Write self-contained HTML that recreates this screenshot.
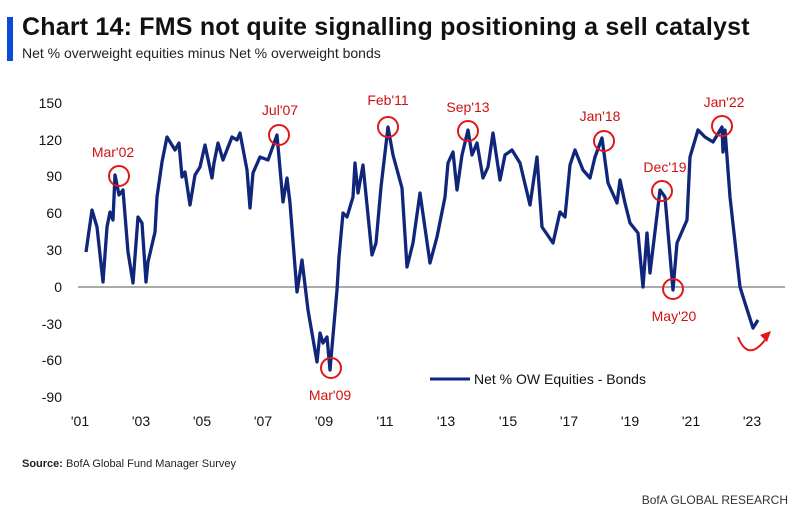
<!DOCTYPE html><html><head><style>
body{margin:0;background:#fff;width:800px;height:519px;overflow:hidden;font-family:"Liberation Sans",sans-serif;position:relative}
.t{position:absolute;white-space:nowrap}
</style></head><body>
<div style="position:absolute;left:7px;top:17px;width:6px;height:44px;background:#0a4bd8"></div>
<div class="t" style="left:22px;top:13px;font-size:25px;letter-spacing:0.2px;font-weight:bold;color:#111">Chart 14: FMS not quite signalling positioning a sell catalyst</div>
<div class="t" style="left:22px;top:45px;font-size:14px;color:#222">Net % overweight equities minus Net % overweight bonds</div>
<svg width="800" height="519" style="position:absolute;left:0;top:0" font-family="Liberation Sans, sans-serif">
<g font-size="14" fill="#111" text-anchor="end">
<text x="62" y="108">150</text><text x="62" y="145">120</text><text x="62" y="181">90</text><text x="62" y="218">60</text><text x="62" y="255">30</text><text x="62" y="292">0</text><text x="62" y="329">-30</text><text x="62" y="365">-60</text><text x="62" y="402">-90</text>
</g>
<g font-size="14" fill="#111" text-anchor="middle">
<text x="80" y="426">'01</text><text x="141" y="426">'03</text><text x="202" y="426">'05</text><text x="263" y="426">'07</text><text x="324" y="426">'09</text><text x="385" y="426">'11</text><text x="446" y="426">'13</text><text x="508" y="426">'15</text><text x="569" y="426">'17</text><text x="630" y="426">'19</text><text x="691" y="426">'21</text><text x="752" y="426">'23</text>
</g>
<line x1="78" y1="287" x2="785" y2="287" stroke="#777" stroke-width="1.2"/>
<polyline fill="none" stroke="#10267a" stroke-width="3.3" stroke-linejoin="round" points="86,252 92,210 97,227 103,282 107,227 110,212 113,220 115,175 119,195 123,190 128,252 133,283 138,217 142,223 146,282 148,262 155,232 157,197 162,162 167,137 175,150 179,143 182,177 185,172 190,205 195,175 200,167 205,145 212,178 214,163 218,143 223,160 232,137 237,140 240,133 247,170 250,208 253,173 260,157 268,160 277,135 283,202 287,178 290,203 297,292 302,260 308,310 317,362 320,333 323,343 327,337 330,370 337,290 339,257 343,213 347,217 353,197 355,163 358,193 363,165 372,255 376,243 381,187 388,127 393,155 402,188 407,267 413,243 420,193 430,263 437,237 445,197 448,163 453,152 457,190 462,155 468,130 472,155 477,143 483,178 488,167 493,133 500,180 505,155 512,150 520,163 530,205 537,157 542,227 553,243 560,212 565,217 570,165 575,150 583,170 590,178 595,157 602,138 608,183 617,203 620,180 625,203 630,223 638,233 643,287 647,233 650,273 660,190 665,197 673,290 677,243 687,220 690,157 698,130 705,137 713,142 722,127 723,152 725,130 730,197 740,287 745,303 753,328 758,320"/>
<g fill="none" stroke="#e01818" stroke-width="2">
<circle cx="119" cy="176" r="10"/><circle cx="279" cy="135" r="10"/><circle cx="388" cy="127" r="10"/><circle cx="468" cy="131" r="10"/><circle cx="604" cy="141" r="10"/><circle cx="662" cy="191" r="10"/><circle cx="673" cy="289" r="10"/><circle cx="331" cy="368" r="10"/><circle cx="722" cy="126" r="10"/>
<path d="M738,337 Q748,362 765,340"/>
</g>
<path d="M771,331 L760,335 L767,342 Z" fill="#e01818"/>
<g font-size="14" fill="#d01010" text-anchor="middle">
<text x="113" y="157">Mar'02</text><text x="280" y="115">Jul'07</text><text x="388" y="105">Feb'11</text><text x="468" y="112">Sep'13</text><text x="600" y="121">Jan'18</text><text x="665" y="172">Dec'19</text><text x="674" y="321">May'20</text><text x="330" y="400">Mar'09</text><text x="724" y="107">Jan'22</text>
</g>
<line x1="430" y1="379" x2="470" y2="379" stroke="#10267a" stroke-width="3"/>
<text x="474" y="384" font-size="14" fill="#111">Net % OW Equities - Bonds</text>
</svg>
<div class="t" style="left:22px;top:458px;font-size:11px;color:#222"><b>Source:</b> BofA Global Fund Manager Survey</div>
<div class="t" style="right:12px;top:493px;font-size:12px;color:#333">BofA GLOBAL RESEARCH</div>
</body></html>
